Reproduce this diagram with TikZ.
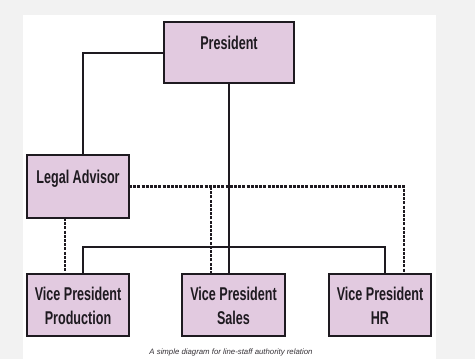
\documentclass[tikz,border=0pt]{standalone}
\usepackage{fontspec}
\setmainfont{Liberation Sans}
\newfontfamily\boxfont{Liberation Sans}[FakeStretch=0.68]
\usetikzlibrary{calc}
\definecolor{boxfill}{HTML}{E2CAE0}
\definecolor{ink}{HTML}{1E1A20}
\definecolor{pagegray}{HTML}{F2F2F2}
\begin{document}
\begin{tikzpicture}[x=1pt,y=-1pt,
  orgbox/.style={draw=ink, fill=boxfill, line width=2pt, inner sep=0pt},
  boxtext/.style={font=\boxfont\bfseries\fontsize{18.5}{23.6}\selectfont, text=ink, inner sep=0pt, align=center, anchor=base},
  lineauth/.style={draw=ink, line width=2pt},
  staffauth/.style={draw=ink, line width=2.6pt, dash pattern=on 3pt off 1.2pt}]
  % page and panel
  \fill[pagegray] (0,0) rectangle (475,359);
  \fill[white] (23,15) rectangle (436,359);
  \useasboundingbox (0,0) rectangle (475,359);

  % boxes
  \node[orgbox, minimum width=128pt, minimum height=59pt] (pres) at (229,52.5) {};
  \node[orgbox, minimum width=100pt, minimum height=61pt] (legal) at (78,186.5) {};
  \node[orgbox, minimum width=100pt, minimum height=60pt] (prod) at (78,305) {};
  \node[orgbox, minimum width=101pt, minimum height=60pt] (sales) at (233.5,305) {};
  \node[orgbox, minimum width=100pt, minimum height=60pt] (hr) at (380,305) {};

  % line authority
  \draw[lineauth] (pres.west) -| ([xshift=5pt]legal.north);
  \draw[lineauth] (pres.south) -- (pres.south |- sales.north);
  \coordinate (bus) at (229,247);
  \draw[lineauth] ([xshift=5pt]prod.north) |- (bus) -| ([xshift=5pt]hr.north);

  % staff authority
  \draw[staffauth] (legal.east) -| ([xshift=24pt]hr.north);
  \coordinate (sd) at ([xshift=-22.5pt]sales.north);
  \draw[staffauth] (sd) -- (sd |- legal.east);
  \draw[staffauth] ([xshift=-13pt]legal.south) -- ([xshift=-13pt]prod.north);

  % redraw boxes on top of the connectors
  \foreach \b in {pres,legal,prod,sales,hr}
    \draw[orgbox] (\b.north west) rectangle (\b.south east);

  % box texts (base anchor sits on the last line)
  \node[boxtext] (pres-t) at (229,49) {President};
  \node[boxtext] (legal-t) at (78,183) {Legal Advisor};
  \node[boxtext] (prod-t) at (78,324.3) {Vice President\\Production};
  \node[boxtext] (sales-t) at (233.5,324.3) {Vice President\\Sales};
  \node[boxtext] (hr-t) at (380,324.3) {Vice President\\HR};

  % caption
  \node[font=\itshape\fontsize{7.8}{9}\selectfont, text=ink!90, anchor=base] (cap) at (231,354) {A simple diagram for line-staff authority relation};
\end{tikzpicture}
\end{document}
